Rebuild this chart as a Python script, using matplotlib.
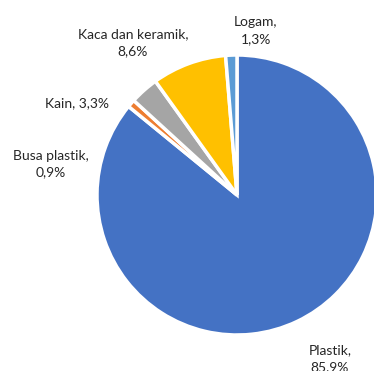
import matplotlib
matplotlib.use("Agg")
import matplotlib.pyplot as plt

# Composition of waste by material (percent)
categories = ["Plastik", "Busa plastik", "Kain", "Kaca dan keramik", "Logam"]
values = [85.9, 0.9, 3.3, 8.6, 1.3]
colors = ["#4472C4", "#ED7D31", "#A5A5A5", "#FFC000", "#5B9BD5"]

# Label anchor points (canvas units, origin bottom-left)
label_pos = [(330, 12), (51, 207), (77, 268), (133, 328.5), (256, 340)]
single_line = [False, False, True, False, False]

W, H = 374, 371
fig = plt.figure(figsize=(W / 100, H / 100), dpi=100)
ax = fig.add_axes([0, 0, 1, 1])

ax.pie(values, colors=colors, startangle=90, counterclock=False,
       center=(237, 176), radius=140, frame=True,
       wedgeprops=dict(edgecolor="white", linewidth=2.5))
ax.set_xlim(0, W)
ax.set_ylim(0, H)
ax.set_aspect("equal")
ax.axis("off")

for name, val, (x, y), one in zip(categories, values, label_pos, single_line):
    pct = f"{val:.1f}".replace(".", ",") + "%"
    txt = f"{name}, {pct}" if one else f"{name},\n{pct}"
    ax.text(x, y, txt, ha="center", va="center", fontsize=10,
            family="Lato", color="#262626", linespacing=1.5)

fig.savefig("out.png", dpi=100)
